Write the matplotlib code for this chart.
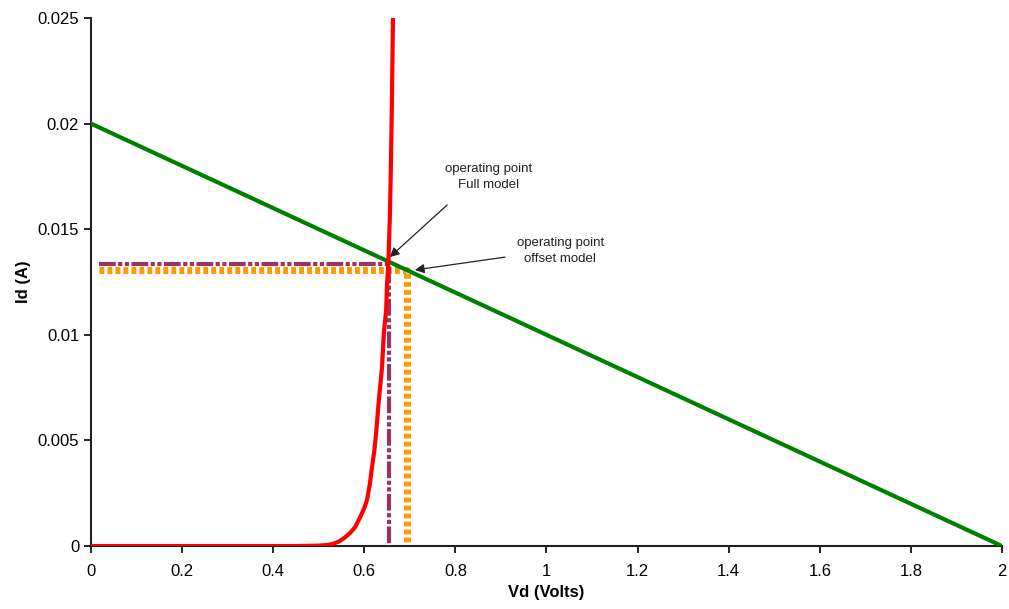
import matplotlib.pyplot as plt
from matplotlib.ticker import FuncFormatter

plt.rcParams['font.family'] = ['Liberation Sans', 'DejaVu Sans']

# load line
load_v = [0.0, 2.0]
load_i = [0.02, 0.0]

# diode curve
diode_v = [0.0, 0.45, 0.50, 0.52, 0.531, 0.545, 0.557, 0.569, 0.58, 0.591, 0.60,
           0.606, 0.612, 0.617, 0.622, 0.626, 0.632, 0.636, 0.639, 0.643, 0.648,
           0.650, 0.653, 0.656, 0.658, 0.6605, 0.663]
diode_i = [0.0, 0.0, 0.00002, 0.00005, 0.0001, 0.00022, 0.0004, 0.00062, 0.0009, 0.00137, 0.0018,
           0.00218, 0.0029, 0.00374, 0.0045, 0.00535, 0.00691, 0.0078, 0.00848, 0.01009, 0.01117,
           0.0124, 0.01347, 0.0155, 0.0175, 0.0208, 0.025]

# operating points
full_v, full_i = 0.655, 0.01337
offset_v, offset_i = 0.693, 0.01305
start_v = 0.018

fig = plt.figure(figsize=(10.09, 6.09), dpi=100)
ax = fig.add_axes([0.0902, 0.1034, 0.9028, 0.867])

ax.plot([start_v, offset_v, offset_v], [offset_i, offset_i, 0], color='#FF9900',
        lw=5, linestyle=(0, (0.7, 0.45)), solid_capstyle='butt', zorder=2)
ax.plot([start_v, full_v, full_v], [full_i, full_i, 0], color='#993366',
        lw=3, linestyle=(0, (4, 0.6, 1, 0.6, 1, 0.6)), zorder=3)
ax.plot(load_v, load_i, color='#008000', lw=3, zorder=4)
ax.plot(diode_v, diode_i, color='#FF0000', lw=3, zorder=5)

arrow = dict(arrowstyle='-|>', color='#222222', lw=0.9, mutation_scale=14,
             shrinkA=0, shrinkB=0)
ax.annotate('', xy=(0.656, 0.01368), xytext=(0.782, 0.01615), arrowprops=arrow)
ax.annotate('', xy=(0.711, 0.01307), xytext=(0.909, 0.01368), arrowprops=arrow)
ax.text(0.872, 0.01747, 'operating point\nFull model', ha='center', va='center',
        fontsize=9.5, linespacing=1.45, color='#222222')
ax.text(1.030, 0.01397, 'operating point\noffset model', ha='center', va='center',
        fontsize=9.5, linespacing=1.45, color='#222222')

ax.set_xlim(0, 2)
ax.set_ylim(0, 0.025)
ax.set_xticks([0, 0.2, 0.4, 0.6, 0.8, 1.0, 1.2, 1.4, 1.6, 1.8, 2.0])
ax.set_yticks([0, 0.005, 0.01, 0.015, 0.02, 0.025])
fmt = FuncFormatter(lambda v, p: '%g' % round(v, 4))
ax.xaxis.set_major_formatter(fmt)
ax.yaxis.set_major_formatter(fmt)
ax.tick_params(direction='out', length=5, width=1.2, labelsize=12, colors='black')
ax.tick_params(axis='x', pad=8)
for s in ['top', 'right']:
    ax.spines[s].set_visible(False)
for s in ['left', 'bottom']:
    ax.spines[s].set_linewidth(1.5)
    ax.spines[s].set_color('#222222')

ax.set_xlabel('Vd (Volts)', fontsize=12, fontweight='bold', labelpad=4)
ax.set_ylabel('Id (A)', fontsize=12, fontweight='bold', labelpad=5)

fig.savefig('out.png', dpi=100)
